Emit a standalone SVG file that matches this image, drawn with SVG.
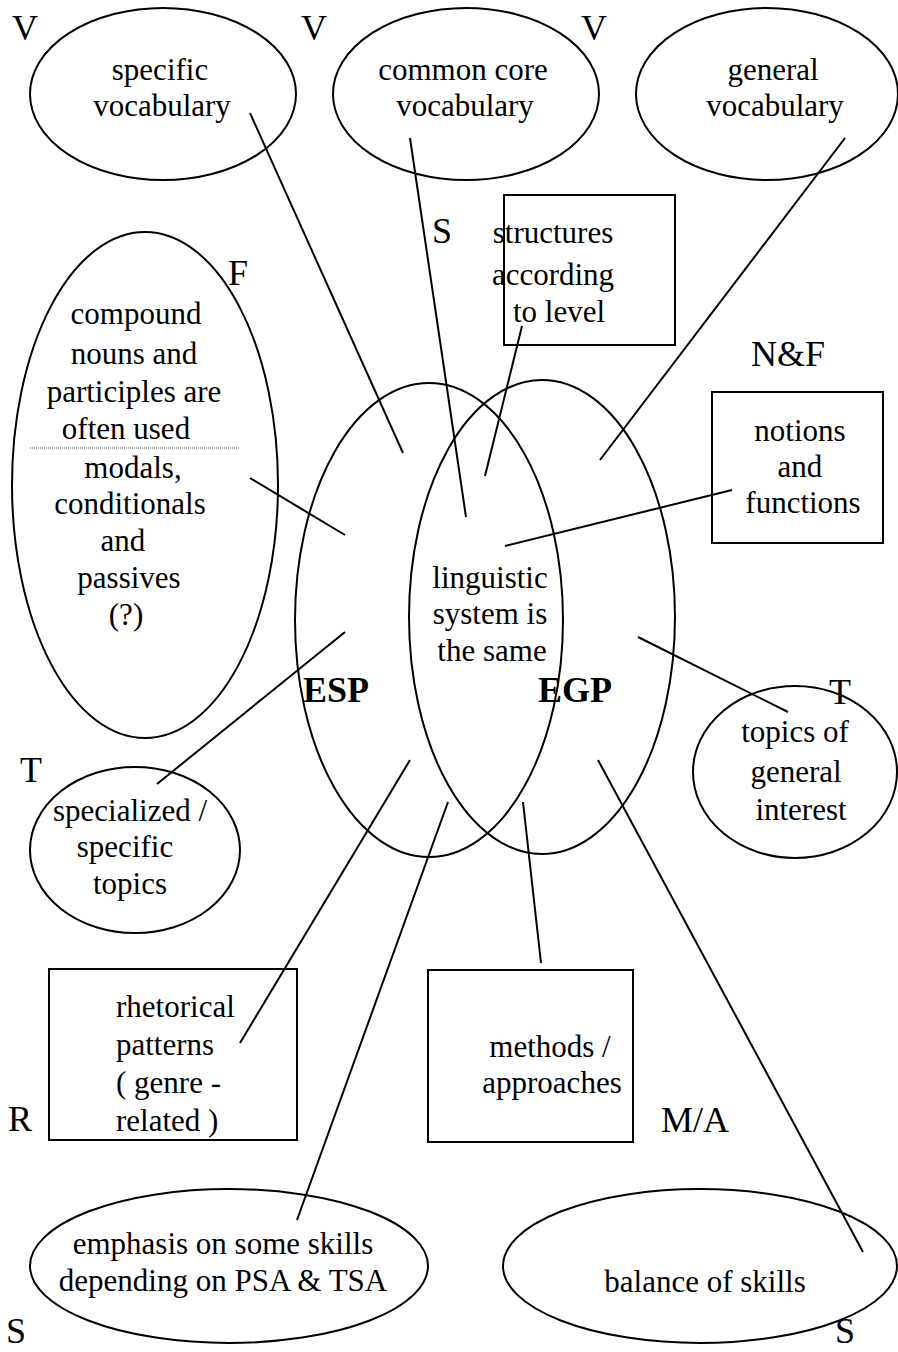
<svg xmlns="http://www.w3.org/2000/svg" width="898" height="1352" viewBox="0 0 898 1352">
<style>
.shape{fill:none;stroke:#000;stroke-width:2}
.t{font-family:"Liberation Serif","Times New Roman",serif;font-size:31px;fill:#000}
.c{text-anchor:middle}
.lab{font-family:"Liberation Serif","Times New Roman",serif;font-size:36px;fill:#000}
.big{font-family:"Liberation Serif","Times New Roman",serif;font-size:36px;font-weight:bold;fill:#000}
.conn line{stroke:#000;stroke-width:2}
</style>
<rect width="898" height="1352" fill="#fff"/>

<g id="node-specific-vocabulary">
<ellipse class="shape" cx="163" cy="94" rx="133" ry="86"/>
<text class="t c" x="160" y="80">specific</text>
<text class="t c" x="162" y="116">vocabulary</text>
</g>
<g id="node-common-core-vocabulary">
<ellipse class="shape" cx="466" cy="94" rx="133" ry="86"/>
<text class="t c" x="463" y="80">common core</text>
<text class="t c" x="465" y="116">vocabulary</text>
</g>
<g id="node-general-vocabulary">
<ellipse class="shape" cx="767" cy="94" rx="131" ry="86"/>
<text class="t c" x="773" y="80">general</text>
<text class="t c" x="775" y="116">vocabulary</text>
</g>

<g id="node-forms">
<ellipse class="shape" cx="145" cy="485" rx="133" ry="253"/>
<text class="t c" x="136" y="324">compound</text>
<text class="t c" x="134" y="364">nouns and</text>
<text class="t c" x="134" y="402">participles are</text>
<text class="t c" x="126" y="439">often used</text>
<line x1="30" y1="448" x2="240" y2="448" stroke="#555" stroke-width="1" stroke-dasharray="1 1"/>
<text class="t c" x="133" y="478">modals,</text>
<text class="t c" x="130" y="514">conditionals</text>
<text class="t c" x="123" y="551">and</text>
<text class="t c" x="129" y="588">passives</text>
<text class="t c" x="126" y="625">(?)</text>
</g>

<g id="node-structures">
<rect class="shape" x="504" y="195" width="171" height="150"/>
<text class="t c" x="553" y="243">structures</text>
<text class="t c" x="553" y="285">according</text>
<text class="t c" x="559" y="322">to level</text>
</g>

<g id="node-notions">
<rect class="shape" x="712" y="392" width="171" height="151"/>
<text class="t c" x="800" y="441">notions</text>
<text class="t c" x="800" y="477">and</text>
<text class="t c" x="803" y="513">functions</text>
</g>

<g id="node-esp">
<ellipse class="shape" cx="429" cy="620" rx="134" ry="237"/>
<text class="big" x="303" y="702">ESP</text>
</g>
<g id="node-egp">
<ellipse class="shape" cx="542" cy="617" rx="133" ry="237"/>
<text class="big" x="538" y="702">EGP</text>
</g>
<g id="node-linguistic">
<text class="t c" x="490" y="588">linguistic</text>
<text class="t c" x="490" y="624">system is</text>
<text class="t c" x="492" y="661">the same</text>
</g>

<g id="node-topics-general">
<ellipse class="shape" cx="795" cy="772" rx="102" ry="86"/>
<text class="t c" x="795" y="742">topics of</text>
<text class="t c" x="796" y="782">general</text>
<text class="t c" x="801" y="820">interest</text>
</g>

<g id="node-specialized-topics">
<ellipse class="shape" cx="135" cy="850" rx="105" ry="83"/>
<text class="t c" x="130" y="821">specialized /</text>
<text class="t c" x="125" y="857">specific</text>
<text class="t c" x="130" y="894">topics</text>
</g>

<g id="node-rhetorical">
<rect class="shape" x="49" y="969" width="248" height="171"/>
<text class="t" x="116" y="1017">rhetorical</text>
<text class="t" x="116" y="1055">patterns</text>
<text class="t" x="116" y="1093">( genre -</text>
<text class="t" x="116" y="1131">related )</text>
</g>

<g id="node-methods">
<rect class="shape" x="428" y="970" width="205" height="172"/>
<text class="t c" x="550" y="1057">methods /</text>
<text class="t c" x="552" y="1093">approaches</text>
</g>

<g id="node-emphasis">
<ellipse class="shape" cx="229" cy="1266" rx="199" ry="77"/>
<text class="t c" x="223" y="1254">emphasis on some skills</text>
<text class="t c" x="223" y="1291">depending on PSA &amp; TSA</text>
</g>

<g id="node-balance">
<ellipse class="shape" cx="700" cy="1266" rx="197" ry="77"/>
<text class="t c" x="705" y="1292">balance of skills</text>
</g>

<g id="labels">
<text class="lab" x="12" y="40">V</text>
<text class="lab" x="301" y="40">V</text>
<text class="lab" x="581" y="40">V</text>
<text class="lab" x="432" y="243">S</text>
<text class="lab" x="228" y="285">F</text>
<text class="lab" x="751" y="366">N&amp;F</text>
<text class="lab" x="829" y="704">T</text>
<text class="lab" x="20" y="782">T</text>
<text class="lab" x="8" y="1131">R</text>
<text class="lab" x="661" y="1132">M/A</text>
<text class="lab" x="6" y="1343">S</text>
<text class="lab" x="835" y="1343">S</text>
</g>

<g id="connectors" class="conn">
<line x1="250" y1="113" x2="403" y2="453"/>
<line x1="410" y1="138" x2="466" y2="517"/>
<line x1="845" y1="138" x2="600" y2="460"/>
<line x1="522" y1="326" x2="485" y2="476"/>
<line x1="732" y1="490" x2="505" y2="546"/>
<line x1="250" y1="478" x2="345" y2="535"/>
<line x1="157" y1="784" x2="345" y2="632"/>
<line x1="638" y1="637" x2="788" y2="712"/>
<line x1="240" y1="1043" x2="410" y2="760"/>
<line x1="297" y1="1220" x2="448" y2="802"/>
<line x1="523" y1="802" x2="541" y2="963"/>
<line x1="598" y1="760" x2="863" y2="1252"/>
</g>
</svg>
